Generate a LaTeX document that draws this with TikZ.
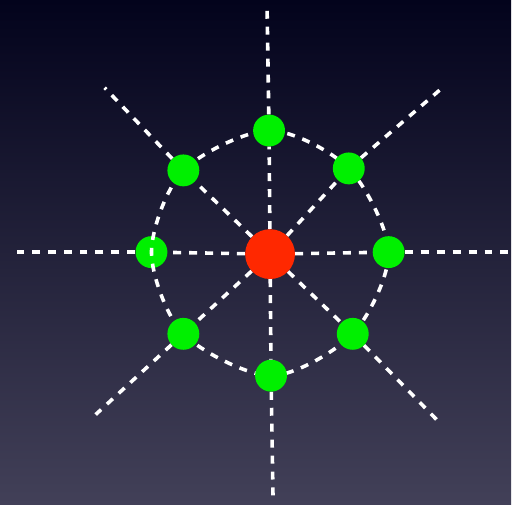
\documentclass[tikz,border=0pt]{standalone}
\usetikzlibrary{calc}
\definecolor{bgtop}{RGB}{3,3,28}
\definecolor{bgbot}{RGB}{66,64,88}
\definecolor{satgreen}{RGB}{0,240,0}
\definecolor{hubred}{RGB}{255,40,0}

\begin{document}
\begin{tikzpicture}[x=1pt, y=-1pt,
  ray/.style={draw=white, line width=3.6pt, dash pattern=on 8pt off 8pt},
  sat/.style={circle, fill=satgreen, minimum size=32pt, inner sep=0pt},
  hub/.style={circle, fill=hubred, minimum size=50pt, inner sep=0pt},
]
  % background
  \shade[top color=bgtop, bottom color=bgbot] (0,0) rectangle (513,506);
  % positions of the outer nodes
  \coordinate (cn)  at (270,131);
  \coordinate (cne) at (350,169);
  \coordinate (ce)  at (390,253);
  \coordinate (cse) at (354,335);
  \coordinate (cs)  at (272,377);
  \coordinate (csw) at (184,335);
  \coordinate (cw)  at (152,253);
  \coordinate (cnw) at (184,171);
  % free ends of the rays
  \coordinate (tn)  at (268,7);
  \coordinate (tne) at (444,88);
  \coordinate (te)  at (513,253);
  \coordinate (tse) at (440,423);
  \coordinate (ts)  at (274,500);
  \coordinate (tsw) at (96,416);
  \coordinate (tw)  at (17,253);
  \coordinate (tnw) at (105,88);
  \node[sat] (w) at (cw) {};
  % dashed ring through the outer nodes
  \draw[ray] plot[smooth cycle] coordinates
    {(cn) (cne) (ce) (cse) (cs) (csw) (cw) (cnw)};
  \foreach \p in {n,ne,e,se,s,sw,nw} \node[sat] (\p) at (c\p) {};
  \node[hub] (hub) at (271,255) {};
  % rays
  \foreach \p in {n,ne,e,se,s,sw,w,nw} {
    \draw[ray] (hub) -- (\p);
    \draw[ray] (\p) -- (t\p);
  }
\end{tikzpicture}
\end{document}
